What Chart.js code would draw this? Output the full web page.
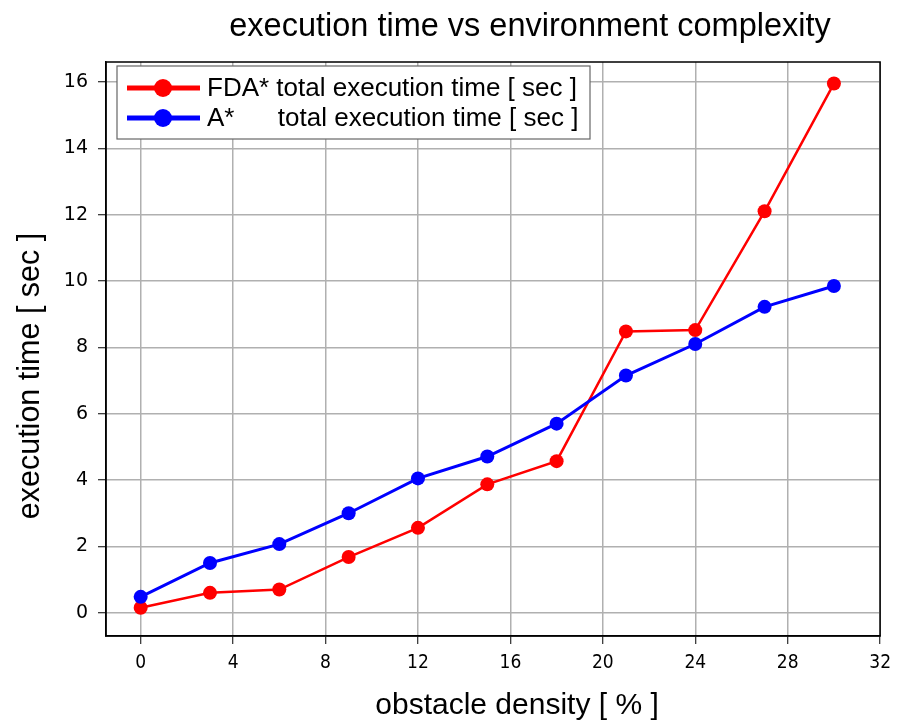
<!DOCTYPE html>
<html>
<head>
<meta charset="utf-8">
<script src="https://cdn.jsdelivr.net/npm/chart.js@4"></script>
<style>
  html, body { margin: 0; padding: 0; background: #fff; }
</style>
</head>
<body>
<canvas id="myChart" width="899" height="723"></canvas>
<script>
// obstacle density [%] on x, execution time [sec] on y
var density = [0, 3, 6, 9, 12, 15, 18, 21, 24, 27, 30];
var fdaTime = [0.15, 0.6, 0.7, 1.68, 2.56, 3.87, 4.57, 8.48, 8.52, 12.1, 15.95];
var aStarTime = [0.48, 1.5, 2.07, 3.0, 4.05, 4.71, 5.7, 7.15, 8.1, 9.22, 9.85];
var xTicks = [0, 4, 8, 12, 16, 20, 24, 28, 32];
var yTicks = [0, 2, 4, 6, 8, 10, 12, 14, 16];
var seriesLabels = ['FDA* total execution time [ sec ]', 'A*      total execution time [ sec ]'];

function toPoints(xs, ys) {
    return xs.map(function (x, i) { return { x: x, y: ys[i] }; });
}

var decorations = {
    id: 'decorations',
    afterDraw: function (chart) {
        var ctx = chart.ctx;
        var area = chart.chartArea;
        ctx.save();

        // frame on top and right like matplotlib
        ctx.strokeStyle = '#000';
        ctx.lineWidth = 1.5;
        ctx.strokeRect(area.left, area.top, area.right - area.left, area.bottom - area.top);

        // title
        ctx.fillStyle = '#000';
        ctx.textAlign = 'center';
        ctx.textBaseline = 'middle';
        ctx.font = '32.5px "Liberation Sans", Arial, sans-serif';
        ctx.fillText('execution time vs environment complexity', 530, 27);

        // axis titles
        ctx.font = '30px "Liberation Sans Narrow", "Liberation Sans", sans-serif';
        ctx.fillText('obstacle density [ % ]', 517, 706);
        ctx.save();
        ctx.translate(31, 376);
        ctx.rotate(-Math.PI / 2);
        ctx.font = '30.5px "Liberation Sans", Arial, sans-serif';
        ctx.fillText('execution time [ sec ]', 0, 0);
        ctx.restore();

        // legend
        var bx = 117, by = 66, bw = 473, bh = 73;
        ctx.fillStyle = '#fff';
        ctx.fillRect(bx, by, bw, bh);
        ctx.strokeStyle = '#666';
        ctx.lineWidth = 1.2;
        ctx.strokeRect(bx, by, bw, bh);
        chart.data.datasets.forEach(function (ds, i) {
            var y = 88 + i * 30;
            ctx.strokeStyle = ds.borderColor;
            ctx.lineWidth = 5;
            ctx.beginPath();
            ctx.moveTo(127, y);
            ctx.lineTo(200, y);
            ctx.stroke();
            ctx.fillStyle = ds.borderColor;
            ctx.beginPath();
            ctx.arc(163, y, 9, 0, Math.PI * 2);
            ctx.fill();
            ctx.fillStyle = '#000';
            ctx.textAlign = 'left';
            ctx.font = '26px "Liberation Sans", Arial, sans-serif';
            ctx.fillText(ds.label, 207, y + 1);
        });
        ctx.restore();
    }
};

var ctx = document.getElementById('myChart').getContext('2d');
new Chart(ctx, {
    type: 'line',
    data: {
        datasets: [
            {
                label: seriesLabels[0],
                data: toPoints(density, fdaTime),
                borderColor: '#ff0000',
                backgroundColor: '#ff0000',
                borderWidth: 2.5,
                pointRadius: 7,
                pointBorderWidth: 0,
                pointBackgroundColor: '#ff0000',
                order: 1
            },
            {
                label: seriesLabels[1],
                data: toPoints(density, aStarTime),
                borderColor: '#0000ff',
                backgroundColor: '#0000ff',
                borderWidth: 3,
                pointRadius: 7,
                pointBorderWidth: 0,
                pointBackgroundColor: '#0000ff',
                order: 0
            }
        ]
    },
    options: {
        responsive: false,
        animation: false,
        devicePixelRatio: 1,
        layout: { padding: { left: 0, top: 62, right: 17, bottom: 0 } },
        plugins: {
            legend: { display: false },
            title: { display: false },
            tooltip: { enabled: false }
        },
        scales: {
            x: {
                type: 'linear',
                min: -1.5,
                max: 32,
                afterBuildTicks: function (scale) {
                    scale.ticks = xTicks.map(function (v) { return { value: v }; });
                },
                afterFit: function (scale) { scale.height = 87; },
                grid: {
                    color: '#b0b0b0',
                    lineWidth: 1.5,
                    tickLength: 8,
                    tickColor: '#000',
                    tickWidth: 1
                },
                border: { color: '#000', width: 1.5 },
                ticks: {
                    color: '#000',
                    padding: 8,
                    maxRotation: 0,
                    font: { family: '"DejaVu Sans Condensed", "DejaVu Sans", sans-serif', size: 19 }
                }
            },
            y: {
                type: 'linear',
                min: -0.7,
                max: 16.6,
                afterBuildTicks: function (scale) {
                    scale.ticks = yTicks.map(function (v) { return { value: v }; });
                },
                afterFit: function (scale) { scale.width = 106; },
                grid: {
                    color: '#b0b0b0',
                    lineWidth: 1.5,
                    tickLength: 8,
                    tickColor: '#000',
                    tickWidth: 1
                },
                border: { color: '#000', width: 1.5 },
                ticks: {
                    color: '#000',
                    padding: 10,
                    font: { family: '"DejaVu Sans", sans-serif', size: 19 }
                }
            }
        }
    },
    plugins: [decorations]
});
</script>
</body>
</html>
